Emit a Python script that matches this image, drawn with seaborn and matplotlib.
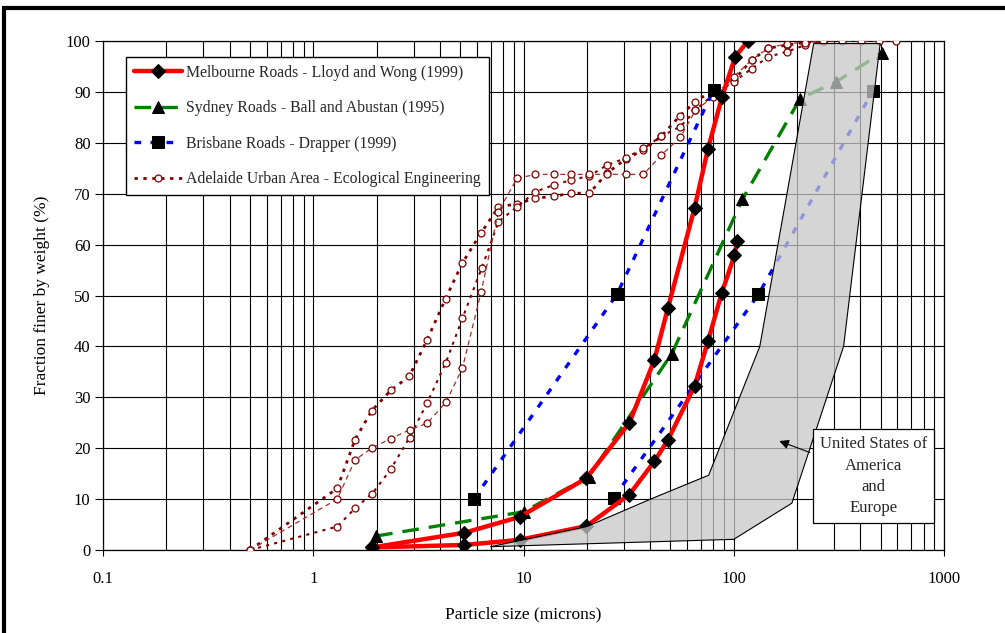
import numpy as np
import matplotlib
matplotlib.use('Agg')
from matplotlib import pyplot as plt
from matplotlib.patches import Rectangle, Polygon
from matplotlib.ticker import FixedLocator, FixedFormatter, NullFormatter
import seaborn as sns

# Melbourne Roads - Lloyd and Wong (1999), two samples
mel_a_size = [1.9, 5.24, 9.58, 19.9, 31.9, 41.9, 48.6, 65.1, 75.4, 87.9, 101.6, 116.8]
mel_a_pct = [0.5, 3.4, 6.5, 14.1, 25.0, 37.3, 47.5, 67.2, 78.8, 89.0, 96.9, 100.0]
mel_b_size = [1.9, 5.24, 9.58, 19.9, 31.9, 41.9, 48.6, 65.1, 75.4, 87.5, 100.8, 104.0]
mel_b_pct = [0.5, 1.0, 2.0, 4.7, 10.9, 17.4, 21.6, 32.2, 41.0, 50.4, 57.9, 60.8]

# Sydney Roads - Ball and Abustan (1995)
syd_size = [1.99, 10.0, 20.4, 50.8, 110, 207, 307, 507]
syd_pct = [2.75, 7.5, 14.4, 38.6, 68.9, 88.7, 92.0, 97.7]

# Brisbane Roads - Drapper (1999), two samples
bris_a_size = [5.8, 27.8, 80.2]
bris_a_pct = [10.0, 50.2, 90.4]
bris_b_size = [26.8, 131, 459]
bris_b_pct = [10.2, 50.2, 90.2]

# Adelaide Urban Area - Ecological Engineering, three samples
adl_a_size = [0.5, 1.3, 1.58, 1.9, 2.34, 2.86, 3.48, 4.26, 5.12, 6.29, 7.6, 9.3, 11.4,
              13.9, 16.9, 20.6, 24.9, 30.6, 37.2, 45.3, 55.4, 65.7, 80, 100, 122,
              146, 179, 218, 266]
adl_a_pct = [0, 12.1, 21.7, 27.4, 31.4, 34.1, 41.3, 49.4, 56.4, 62.3, 67.4, 68.0, 69.1,
             69.5, 70.1, 70.1, 74.0, 76.8, 78.6, 81.3, 85.3, 88.1, 90.4, 92.3, 96.3,
             98.6, 99.2, 99.7, 100]
adl_c_size = [0.5, 1.3, 1.58, 1.91, 2.34, 2.87, 3.48, 4.27, 5.12, 6.34, 7.6, 9.3, 11.4,
              13.9, 16.9, 20.6, 24.9, 30.6, 37.2, 45.3, 55.8, 65.7, 80, 100, 122,
              146, 179, 218, 266]
adl_c_pct = [0, 4.6, 8.2, 11.1, 15.9, 22.1, 28.9, 36.8, 45.5, 55.5, 64.5, 67.4, 70.4,
             71.7, 72.7, 73.5, 75.6, 77.0, 78.9, 81.3, 83.2, 86.4, 89.5, 92.0, 94.6,
             96.9, 97.9, 99.2, 100]
adl_d_size = [0.5, 1.3, 1.58, 1.91, 2.34, 2.87, 3.48, 4.27, 5.12, 6.29, 7.6, 9.3, 11.4,
              13.9, 16.9, 20.6, 24.9, 30.6, 37.2, 45.3, 55.8, 65.7, 80, 100, 122,
              146, 179, 218, 266, 326, 401, 490, 594]
adl_d_pct = [0, 10.0, 17.7, 20.1, 21.9, 23.6, 24.9, 29.0, 35.7, 50.7, 66.5, 73.0, 73.8,
             73.8, 73.8, 73.8, 73.8, 73.8, 73.8, 77.6, 81.1, 86.4, 89.0, 93.0, 96.3,
             98.6, 99.5, 99.7, 100, 100, 100, 100, 100]

# USA / Europe envelope
env_size = [6.95, 20, 40.2, 76, 133, 240, 497, 333, 189, 100]
env_pct = [0.65, 4.6, 10.0, 14.7, 40.0, 99.5, 99.5, 40.0, 9.2, 2.1]

x_ticks = [0.1, 1, 10, 100, 1000]
x_tick_labels = ['0.1', '1', '10', '100', '1000']
y_ticks = list(range(0, 101, 10))


def draw(ax, x, y, dashes=None, **kw):
  sns.lineplot(x=x, y=y, ax=ax, estimator=None, sort=False, legend=False, **kw)
  line = ax.lines[-1]
  if dashes is not None:
    line.set_dashes(dashes)
  return line


sns.set_theme(style='white')
plt.rcParams['font.family'] = ['Liberation Serif', 'DejaVu Serif']

fig = plt.figure(figsize=(10.05, 6.33), dpi=100)
ax = fig.add_axes([0.1025, 0.1311, 0.8368, 0.8041])
ax.set_xscale('log')
ax.set_xlim(0.1, 1000)
ax.set_ylim(0, 100)

# Adelaide
adl_col = '#800000'
circ = dict(marker='o', markersize=5, markerfacecolor='white',
            markeredgecolor=adl_col, markeredgewidth=0.9, zorder=3)
l_adl = draw(ax, adl_a_size, adl_a_pct, color=adl_col, linewidth=2.0,
             dashes=(1.2, 2.0), **circ)
draw(ax, adl_c_size, adl_c_pct, color=adl_col, linewidth=1.5, dashes=(1.5, 2.5), **circ)
draw(ax, adl_d_size, adl_d_pct, color='#a03030', linewidth=0.9, dashes=(4, 3), **circ)

# Brisbane
sq = dict(marker='s', markersize=8, markerfacecolor='black',
          markeredgecolor='black', zorder=4)
l_bris = draw(ax, bris_a_size, bris_a_pct, color='#0000ff', linewidth=2.4,
              dashes=(2, 2.8), **sq)
draw(ax, bris_b_size, bris_b_pct, color='#0000ff', linewidth=2.4, dashes=(2, 2.8), **sq)

# Sydney
l_syd = draw(ax, syd_size, syd_pct, color='#008000', linewidth=2.4, dashes=(5, 3),
             marker='^', markersize=8, markerfacecolor='black',
             markeredgecolor='black', zorder=4)

# Melbourne
dia = dict(marker='D', markersize=7, markerfacecolor='black',
           markeredgecolor='black', zorder=5)
l_mel = draw(ax, mel_a_size, mel_a_pct, color='#ff0000', linewidth=3.2, **dia)
draw(ax, mel_b_size, mel_b_pct, color='#ff0000', linewidth=3.2, **dia)

# envelope on top, partly see-through
env = Polygon(np.column_stack([env_size, env_pct]), closed=True,
              facecolor='#c8c8c8', alpha=0.75, edgecolor='none', zorder=6)
ax.add_patch(env)
ax.add_patch(Polygon(np.column_stack([env_size, env_pct]), closed=True,
                     fill=False, edgecolor='black', linewidth=0.8, zorder=6))

ax.annotate('United States of\nAmerica\nand\nEurope', xy=(160, 21.6), xytext=(461, 14.5),
            ha='center', va='center', fontsize=12, linespacing=1.45, zorder=8,
            bbox=dict(boxstyle='square,pad=0.4', facecolor='white',
                      edgecolor='black', linewidth=0.9),
            arrowprops=dict(arrowstyle='-|>', color='black', linewidth=0.8,
                            mutation_scale=14))

# grid
ax.xaxis.set_major_locator(FixedLocator(x_ticks))
ax.xaxis.set_major_formatter(FixedFormatter(x_tick_labels))
ax.xaxis.set_minor_formatter(NullFormatter())
ax.set_yticks(y_ticks)
ax.grid(True, which='major', axis='both', color='black', linewidth=0.8)
ax.grid(True, which='minor', axis='x', color='black', linewidth=0.8)
ax.set_axisbelow(True)
for s in ax.spines.values():
  s.set_color('black')
  s.set_linewidth(0.9)
ax.tick_params(axis='x', which='major', bottom=True, length=4, width=0.8,
               color='black', pad=11, labelsize=12, labelcolor='black')
ax.tick_params(axis='x', which='minor', length=0)
ax.tick_params(axis='y', left=True, length=6, width=0.8, color='black', pad=3,
               labelsize=12, labelcolor='black')

ax.set_xlabel('Particle size (microns)', fontsize=12.5, labelpad=14, color='black')
ax.set_ylabel('Fraction finer by weight (%)', fontsize=12.5, labelpad=11, color='black')

leg = ax.legend([l_mel, l_syd, l_bris, l_adl],
                ['Melbourne Roads - Lloyd and Wong (1999)',
                 'Sydney Roads - Ball and Abustan (1995)',
                 'Brisbane Roads - Drapper (1999)',
                 'Adelaide Urban Area - Ecological Engineering'],
                loc='upper left', bbox_to_anchor=(0.027, 0.969), borderaxespad=0,
                fontsize=11.3, frameon=True, fancybox=False, framealpha=1,
                edgecolor='black', handlelength=3.1, handletextpad=0.25,
                labelspacing=1.25, borderpad=0.5)
leg.get_frame().set_linewidth(1.0)
leg.set_zorder(10)

# outer frame of the pasted chart
fig.add_artist(Rectangle((0.004, -0.2), 1.5, 1.187, transform=fig.transFigure,
                         fill=False, edgecolor='black', linewidth=3))

fig.savefig('out.png', dpi=100, facecolor='white')
